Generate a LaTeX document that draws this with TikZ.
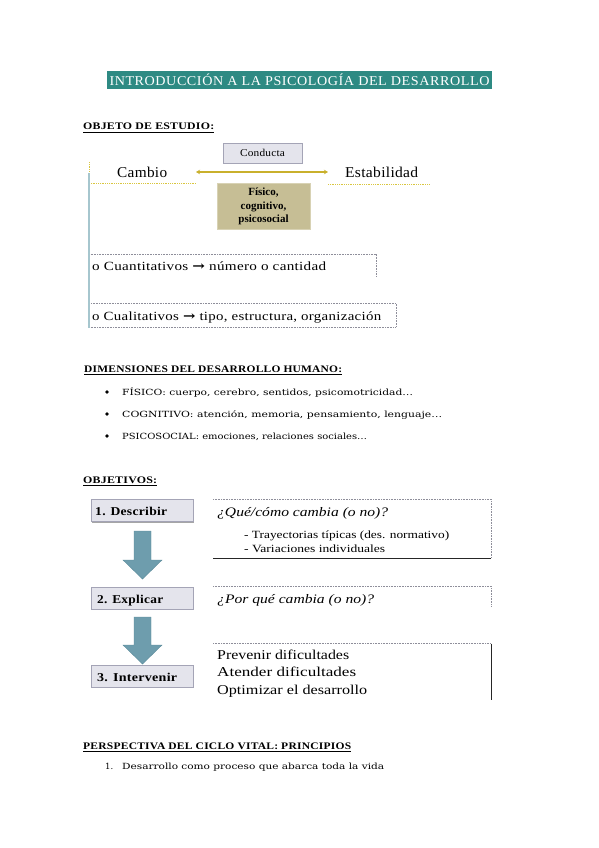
\documentclass[tikz,border=0pt]{standalone}
\usepackage{fontspec}
\usepackage{graphicx}
\setmainfont{Liberation Serif}
\newfontfamily\dvs{DejaVu Serif}
\newfontfamily\lsA[LetterSpace=2]{Liberation Serif}
\newfontfamily\ttlf[LetterSpace=4]{Liberation Serif}
\newfontfamily\hdf[LetterSpace=2]{Liberation Serif}
\usetikzlibrary{shadows,arrows.meta}
\newcommand{\hfit}[2]{\resizebox{#1}{\height}{#2}}
\definecolor{ttlc}{HTML}{2E8A83}
\definecolor{boxf}{HTML}{E4E4EC}
\definecolor{boxb}{HTML}{A4A4B6}
\definecolor{fisf}{HTML}{C6BE95}
\definecolor{fisb}{HTML}{D8D2B4}
\definecolor{goldc}{HTML}{C9B02C}
\definecolor{yelc}{HTML}{D9C640}
\definecolor{bluel}{HTML}{A6C6CE}
\definecolor{arrf}{HTML}{6E9DAD}
\definecolor{arrb}{HTML}{5B8B9B}
\definecolor{dotc}{HTML}{8E8E9A}
\begin{document}
\begin{tikzpicture}[x=1pt,y=-1pt,
  txt/.style={inner sep=0pt, anchor=base west},
  lbox/.style={draw=boxb, fill=boxf, line width=0.6pt, inner sep=0pt,
    drop shadow={shadow xshift=1.3pt, shadow yshift=-1.3pt, fill=black, opacity=0.35}},
  dotl/.style={draw=dotc, line width=0.7pt, dash pattern=on 0.8pt off 0.8pt},
  soll/.style={draw=black!85, line width=0.8pt},
  ulin/.style={draw=black, line width=0.7pt},
  downarr/.style={fill=arrf, draw=arrb, line width=0.4pt},
  hd/.style={txt, font=\hdf\bfseries\fontsize{10}{11}\selectfont},
]
\useasboundingbox (0,0) rectangle (599,848);
\fill[white] (0,0) rectangle (599,848);

% Title
\node[fill=ttlc, text=white, minimum width=385pt, minimum height=18pt, inner sep=0pt] (title) at (299.5,80)
  {\ttlf\fontsize{13.5}{15}\selectfont\hfit{380pt}{INTRODUCCIÓN A LA PSICOLOGÍA DEL DESARROLLO}};

% OBJETO DE ESTUDIO
\node[hd] (h1) at (83,130) {\hfit{131pt}{OBJETO DE ESTUDIO:}};
\draw[ulin] ([yshift=-2pt]h1.base west) -- ([yshift=-2pt]h1.base east);

\node[lbox, minimum width=79pt, minimum height=20pt] (cond) at (262.5,153)
  {\lsA\fontsize{10.5}{12}\selectfont\hfit{45pt}{Conducta}};

\node[txt] (cambio) at (117,177) {\lsA\fontsize{15}{16}\selectfont\hfit{50pt}{Cambio}};
\node[txt] (estab) at (345,177) {\lsA\fontsize{15}{16}\selectfont\hfit{73pt}{Estabilidad}};

\coordinate (aL) at (196,172);
\coordinate (aR) at (328,172);
\draw[goldc, line width=1.4pt, {Stealth[length=4pt,width=4.5pt]}-{Stealth[length=4pt,width=4.5pt]}] (aL) -- (aR);

\coordinate (y0) at (89,162);
\coordinate (y1) at (89,173);
\coordinate (y2) at (196,183);
\coordinate (y3) at (89,183);
\coordinate (y4) at (328,184);
\coordinate (y5) at (430,184);
\draw[yelc, line width=0.8pt, dash pattern=on 1pt off 0.8pt] (y0) -- (y1);
\draw[yelc, line width=0.8pt, dash pattern=on 1pt off 0.8pt] (y3) -- (y2);
\draw[yelc, line width=0.8pt, dash pattern=on 1pt off 0.8pt] (y4) -- (y5);

\node[draw=fisb, fill=fisf, line width=0.8pt, minimum width=93pt, minimum height=46pt, inner sep=0pt,
  align=center, font=\bfseries\fontsize{11}{13.5}\selectfont] (fis) at (263.5,206.5)
  {Físico,\\cognitivo,\\psicosocial};

% Cuantitativos / Cualitativos
\draw[dotl] (89,254) -- (376,254) -- (376,276);
\draw[dotl] (89,303) rectangle (396,327);
\coordinate (b0) at (89,173);
\coordinate (b1) at (89,328);
\draw[bluel, line width=1.2pt] (b0) -- (b1);
\node[txt] (cuan) at (92,270) {\lsA\fontsize{12.5}{13}\selectfont\hfit{234pt}{o Cuantitativos {\dvs\bfseries →} número o cantidad}};
\node[txt] (cual) at (92,320) {\lsA\fontsize{12.5}{13}\selectfont\hfit{289pt}{o Cualitativos {\dvs\bfseries →} tipo, estructura, organización}};

% DIMENSIONES
\node[hd] (h2) at (84,372) {\hfit{258pt}{DIMENSIONES DEL DESARROLLO HUMANO:}};
\draw[ulin] ([yshift=-2pt]h2.base west) -- ([yshift=-2pt]h2.base east);
\fill (107,392) circle (1.8);
\fill (107,414) circle (1.8);
\fill (107,436) circle (1.8);
\node[txt] (d1) at (122,395) {\dvs\fontsize{8.5}{10}\selectfont\hfit{291pt}{FÍSICO: cuerpo, cerebro, sentidos, psicomotricidad…}};
\node[txt] (d2) at (122,417) {\dvs\fontsize{8.5}{10}\selectfont\hfit{320pt}{COGNITIVO: atención, memoria, pensamiento, lenguaje…}};
\node[txt] (d3) at (122,439) {\dvs\fontsize{8.5}{10}\selectfont\hfit{245pt}{PSICOSOCIAL: emociones, relaciones sociales…}};

% OBJETIVOS
\node[hd] (h3) at (83,483) {\hfit{74pt}{OBJETIVOS:}};
\draw[ulin] ([yshift=-2pt]h3.base west) -- ([yshift=-2pt]h3.base east);

\node[lbox, minimum width=102pt, minimum height=22pt] (o1) at (142,510.5) {};
\node[lbox, minimum width=102pt, minimum height=22pt] (o2) at (142,598) {};
\node[lbox, minimum width=102pt, minimum height=22pt] (o3) at (142,676) {};
\node[txt] (o1t) at (95,515) {\lsA\bfseries\fontsize{12}{13}\selectfont\hfit{72pt}{1. Describir}};
\node[txt] (o2t) at (97,603) {\lsA\bfseries\fontsize{12}{13}\selectfont\hfit{66pt}{2. Explicar}};
\node[txt] (o3t) at (97,681) {\lsA\bfseries\fontsize{12}{13}\selectfont\hfit{80pt}{3. Intervenir}};

\draw[downarr] (134,531) -- (151,531) -- (151,560) -- (162,560) -- (142.5,579) -- (123,560) -- (134,560) -- cycle;
\draw[downarr] (134,617) -- (151,617) -- (151,645) -- (162,645) -- (142.5,664) -- (123,645) -- (134,645) -- cycle;

% text boxes
\draw[dotl] (213,499) -- (491,499) -- (491,558);
\draw[soll] (213,558.5) -- (491,558.5);
\draw[dotl] (213,586) -- (491,586) -- (491,607);
\draw[dotl] (213,643.5) -- (491,643.5);
\draw[soll] (491,643.5) -- (491,700);

\node[txt] (q1) at (217,516) {\itshape\fontsize{13}{14}\selectfont\hfit{171pt}{¿Qué/cómo cambia (o no)?}};
\node[txt] (q1a) at (244,538) {\fontsize{11}{12}\selectfont\hfit{205pt}{- Trayectorias típicas (des. normativo)}};
\node[txt] (q1b) at (244,552) {\fontsize{11}{12}\selectfont\hfit{141pt}{- Variaciones individuales}};
\node[txt] (q2) at (217,603) {\itshape\fontsize{13}{14}\selectfont\hfit{157pt}{¿Por qué cambia (o no)?}};
\node[txt] (q3a) at (217,659) {\fontsize{13.5}{15}\selectfont\hfit{132pt}{Prevenir dificultades}};
\node[txt] (q3b) at (217,676) {\fontsize{13.5}{15}\selectfont\hfit{139pt}{Atender dificultades}};
\node[txt] (q3c) at (217,694) {\fontsize{13.5}{15}\selectfont\hfit{150pt}{Optimizar el desarrollo}};

% PERSPECTIVA
\node[hd] (h4) at (83,749) {\hfit{268pt}{PERSPECTIVA DEL CICLO VITAL: PRINCIPIOS}};
\draw[ulin] ([yshift=-2pt]h4.base west) -- ([yshift=-2pt]h4.base east);
\node[txt] (p1n) at (105,769) {\dvs\fontsize{8.5}{10}\selectfont 1.};
\node[txt] (p1) at (122,769) {\dvs\fontsize{8.5}{10}\selectfont\hfit{262pt}{Desarrollo como proceso que abarca toda la vida}};
\end{tikzpicture}
\end{document}
